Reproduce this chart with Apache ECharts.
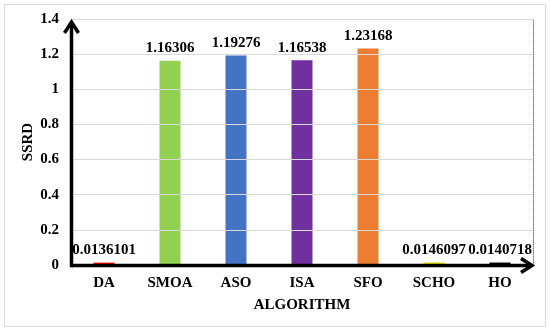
<!DOCTYPE html>
<html>
<head>
<meta charset="utf-8">
<script src="https://cdn.jsdelivr.net/npm/echarts@6/dist/echarts.min.js"></script>
<style>
html,body{margin:0;padding:0;background:#fff;}
#chart{width:550px;height:331px;}
</style>
</head>
<body>
<div id="chart"></div>
<script>
var categories = ['DA', 'SMOA', 'ASO', 'ISA', 'SFO', 'SCHO', 'HO'];
var values = [0.0136101, 1.16306, 1.19276, 1.16538, 1.23168, 0.0146097, 0.0140718];
var yTicks = [0, 0.2, 0.4, 0.6, 0.8, 1, 1.2, 1.4];

var barColors = ['#FF0000', '#92D050', '#4472C4', '#7030A0', '#ED7D31', '#E6E600', '#000000'];
var font = '"Liberation Serif", "Times New Roman", serif';
var fs = 15;

var chart = echarts.init(document.getElementById('chart'));
chart.setOption({
  animation: false,
  backgroundColor: '#fff',
  grid: {left: 71, right: 17, top: 19, bottom: 66},
  xAxis: [{
    type: 'category',
    data: categories,
    name: 'ALGORITHM',
    nameLocation: 'middle',
    nameGap: 33,
    nameMoveOverlap: false,
    nameTextStyle: {fontFamily: font, fontWeight: 'bold', fontSize: fs, color: '#000'},
    axisLine: {show: false},
    axisTick: {show: false},
    axisLabel: {fontFamily: font, fontWeight: 'bold', fontSize: fs, color: '#000', margin: 11},
    z: 10
  }, {
    type: 'category',
    data: categories,
    position: 'top',
    axisLine: {show: true, lineStyle: {color: '#808080', width: 1, type: [1, 1]}},
    axisTick: {show: false},
    axisLabel: {show: false},
    z: 1
  }],
  yAxis: [{
    type: 'value',
    min: yTicks[0],
    max: yTicks[yTicks.length - 1],
    interval: 0.2,
    name: 'SSRD',
    nameLocation: 'middle',
    nameGap: 35,
    nameMoveOverlap: false,
    nameRotate: 90,
    nameTextStyle: {fontFamily: font, fontWeight: 'bold', fontSize: fs, color: '#000'},
    axisLine: {show: false},
    axisTick: {show: false},
    axisLabel: {fontFamily: font, fontWeight: 'bold', fontSize: fs, color: '#000', margin: 12},
    splitLine: {show: true, lineStyle: {color: '#d9d9d9', width: 1}},
    z: 10
  }, {
    type: 'value',
    position: 'right',
    min: yTicks[0],
    max: yTicks[yTicks.length - 1],
    interval: 0.2,
    axisLine: {show: true, lineStyle: {color: '#808080', width: 1, type: [1, 1]}},
    axisTick: {show: false},
    axisLabel: {show: false},
    splitLine: {show: false},
    z: 1
  }],
  series: [{
    type: 'bar',
    barWidth: 21,
    data: values.map(function (v, i) {
      return {value: v, itemStyle: {color: barColors[i]}};
    }),
    label: {
      show: true,
      position: 'top',
      distance: 5,
      fontFamily: font,
      fontWeight: 'bold',
      fontSize: fs,
      color: '#000'
    },
    z: 2
  }]
});

// Axis lines and arrows positioned from the library's own scales
var c0 = chart.convertToPixel({xAxisIndex: 0}, categories[0]);
var c1 = chart.convertToPixel({xAxisIndex: 0}, categories[1]);
var cN = chart.convertToPixel({xAxisIndex: 0}, categories[categories.length - 1]);
var half = (c1 - c0) / 2;
var xLeft = Math.round(c0 - half) + 0.5;
var xRight = cN + half;
var yBottom = Math.round(chart.convertToPixel({yAxisIndex: 0}, yTicks[0])) + 0.5;
var yTop = chart.convertToPixel({yAxisIndex: 0}, yTicks[yTicks.length - 1]);
var yTip = yTop + 3;
var lw = 3.5;
var arrowStyle = {fill: 'none', stroke: '#000', lineWidth: lw, lineJoin: 'miter', lineCap: 'butt'};
chart.setOption({
  graphic: [{
    type: 'rect',
    shape: {x: 4.5, y: 4.5, width: 541, height: 322},
    style: {fill: 'none', stroke: '#d9d9d9', lineWidth: 1},
    silent: true,
    z: -1
  }, {
    type: 'line',
    shape: {x1: xLeft, y1: yBottom + lw / 2, x2: xLeft, y2: yTip + 1},
    style: {stroke: '#000', lineWidth: lw},
    silent: true,
    z: 100
  }, {
    type: 'line',
    shape: {x1: xLeft, y1: yBottom, x2: xRight - 2, y2: yBottom},
    style: {stroke: '#000', lineWidth: lw},
    silent: true,
    z: 100
  }, {
    type: 'polyline',
    shape: {points: [[xLeft - 7, yTip + 11], [xLeft, yTip], [xLeft + 7, yTip + 11]]},
    style: arrowStyle,
    silent: true,
    z: 100
  }, {
    type: 'polyline',
    shape: {points: [[xRight - 12, yBottom - 7], [xRight - 1, yBottom], [xRight - 12, yBottom + 7]]},
    style: arrowStyle,
    silent: true,
    z: 100
  }]
});
</script>
</body>
</html>
